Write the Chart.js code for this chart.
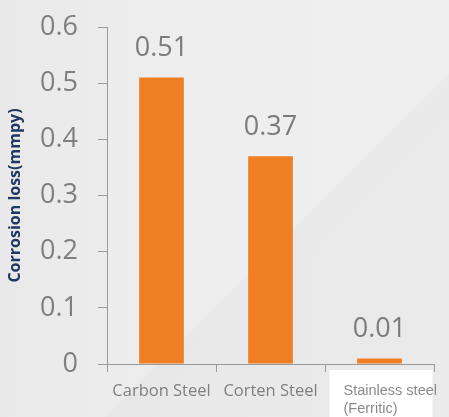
<!DOCTYPE html>
<html>
<head>
<meta charset="utf-8">
<script src="https://cdn.jsdelivr.net/npm/chart.js@4/dist/chart.umd.min.js"></script>
<style>
  html, body { margin: 0; padding: 0; }
  body {
    width: 449px; height: 417px; overflow: hidden;
    background:
      linear-gradient(135deg, rgba(255,255,255,0) 0%, rgba(255,255,255,0) 60%, rgba(0,0,0,0.025) 60.5%, rgba(0,0,0,0.02) 100%),
      linear-gradient(90deg, #e9e9e9 0%, #eeeeee 40%, #efefef 100%);
  }
  #wrap { position: relative; width: 449px; height: 417px; }
</style>
</head>
<body>
<div id="wrap"><canvas id="c" width="449" height="417"></canvas></div>
<script>
const categories = ['Carbon Steel', 'Corten Steel', ['Stainless steel', '(Ferritic)']];
const corrosionLoss = [0.51, 0.37, 0.01];
const valueLabels = ['0.51', '0.37', '0.01'];
const yTicks = [0, 0.1, 0.2, 0.3, 0.4, 0.5, 0.6];

const GRAY = '#7f7f7f';

const valueLabelPlugin = {
  id: 'valueLabels',
  afterDatasetsDraw(chart) {
    const ctx = chart.ctx;
    const meta = chart.getDatasetMeta(0);
    ctx.save();
    ctx.font = '27px "Open Sans"';
    ctx.fillStyle = '#7b7b7b';
    ctx.textAlign = 'center';
    ctx.textBaseline = 'middle';
    meta.data.forEach((bar, i) => {
      ctx.fillText(valueLabels[i], bar.x, bar.y - 29);
    });
    ctx.restore();
  }
};

const boxLabelPlugin = {
  id: 'boxLabel',
  afterDraw(chart) {
    const ctx = chart.ctx;
    const xs = chart.scales.x;
    const cx = xs.getPixelForValue(2);
    const left = cx - 50, top = 370, right = cx + 53;
    ctx.save();
    ctx.fillStyle = '#ffffff';
    ctx.fillRect(left, top, right - left, 417 - top);
    ctx.font = '14.5px "Liberation Sans"';
    ctx.fillStyle = '#8a8a8a';
    ctx.textAlign = 'left';
    ctx.textBaseline = 'middle';
    const lines = categories[2];
    ctx.fillText(lines[0], left + 14, 391);
    ctx.fillText(lines[1], left + 14, 409);
    ctx.restore();
  }
};

new Chart(document.getElementById('c'), {
  type: 'bar',
  data: {
    labels: categories,
    datasets: [{
      data: corrosionLoss,
      backgroundColor: '#EF7F22',
      categoryPercentage: 0.82,
      barPercentage: 0.5
    }]
  },
  options: {
    responsive: false,
    animation: false,
    events: [],
    layout: { padding: { left: 0, top: 27, right: 15, bottom: 0 } },
    plugins: { legend: { display: false }, tooltip: { enabled: false } },
    scales: {
      y: {
        min: 0, max: 0.6,
        afterBuildTicks(scale) { scale.ticks = yTicks.map(v => ({ value: v })); },
        afterFit(scale) { scale.width = 107; },
        border: { display: true, color: '#9a9a9a', width: 1 },
        grid: { drawOnChartArea: false, drawTicks: true, tickLength: 9, color: '#9a9a9a' },
        ticks: {
          padding: 20,
          color: GRAY,
          font: { family: 'Open Sans', size: 27, lineHeight: 0.3 },
          callback: v => (v === 0 ? '0' : String(Math.round(v * 10) / 10))
        },
        title: {
          display: true,
          text: 'Corrosion loss(mmpy)',
          color: '#1f3864',
          font: { family: 'Open Sans', size: 16, weight: 'bold' },
          padding: { top: 6, bottom: 0 }
        }
      },
      x: {
        afterFit(scale) { scale.height = 53; },
        border: { display: true, color: '#9a9a9a', width: 1 },
        grid: { offset: true, drawOnChartArea: false, drawTicks: true, tickLength: 8, color: '#9a9a9a' },
        ticks: {
          padding: 9,
          color: GRAY,
          maxRotation: 0,
          autoSkip: false,
          font: { family: 'Open Sans', size: 16.5 },
          callback: (v, i) => (i === 2 ? '' : categories[i])
        }
      }
    }
  },
  plugins: [valueLabelPlugin, boxLabelPlugin]
});
</script>
</body>
</html>
